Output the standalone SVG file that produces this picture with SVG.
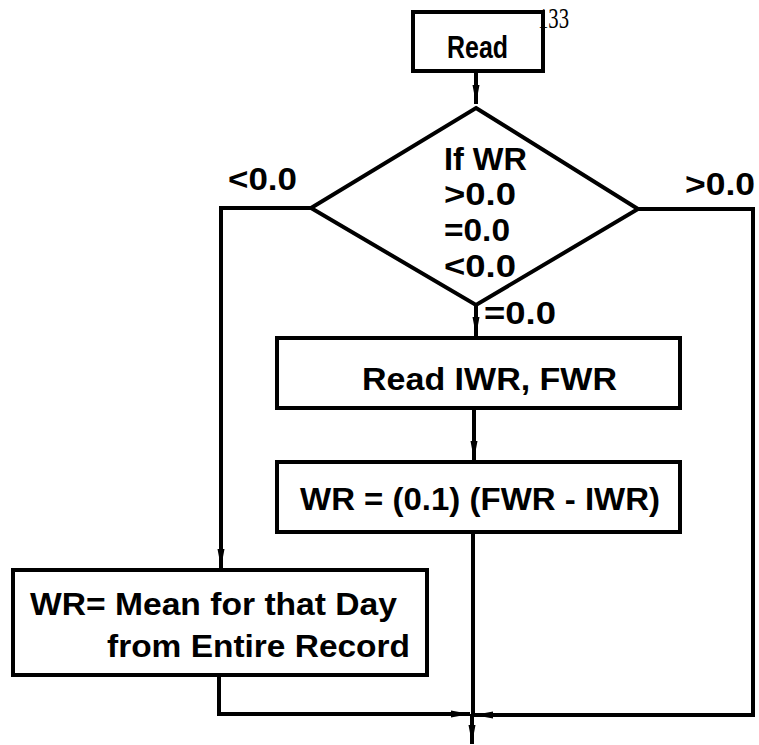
<svg xmlns="http://www.w3.org/2000/svg" width="759" height="745" viewBox="0 0 759 745">
<defs>
<style>
.box{fill:#fff;stroke:#000;stroke-width:4}
.ln{fill:none;stroke:#000;stroke-width:4}
.t{font-family:"Liberation Sans",Arial,sans-serif;font-weight:bold;fill:#000;font-size:32px}
.num{font-family:"Liberation Serif","Times New Roman",serif;fill:#000;font-size:29px}
</style>
<marker id="ah" markerUnits="userSpaceOnUse" markerWidth="22" markerHeight="12" refX="19" refY="6" orient="auto">
<path d="M0,2.5 L19,6 L0,9.5 z" fill="#000"/>
</marker>
</defs>
<rect width="759" height="745" fill="#fff"/>
<g id="connectors">
<path class="ln" d="M476,72 V104" marker-end="url(#ah)"/>
<path class="ln" d="M476,305 V336" marker-end="url(#ah)"/>
<path class="ln" d="M474,408 V460" marker-end="url(#ah)"/>
<path class="ln" d="M473,532 V716"/>
<path class="ln" d="M472,714 V744" marker-end="url(#ah)"/>
<path class="ln" d="M311,208 H221 V568" marker-end="url(#ah)"/>
<path class="ln" d="M219,675 V714 H470" marker-end="url(#ah)"/>
<path class="ln" d="M638,209 H753 V715 H474" marker-end="url(#ah)"/>
<text class="t" x="228" y="190" textLength="69" lengthAdjust="spacingAndGlyphs">&lt;0.0</text>
<text class="t" x="685" y="195" textLength="70" lengthAdjust="spacingAndGlyphs">&gt;0.0</text>
<text class="t" x="484" y="324" textLength="72" lengthAdjust="spacingAndGlyphs">=0.0</text>
</g>
<g id="read">
<rect class="box" x="413" y="12" width="130" height="59"/>
<text class="t" x="447" y="58" font-size="28" textLength="61" lengthAdjust="spacingAndGlyphs">Read</text>
</g>
<g id="pagenum">
<text class="num" x="538" y="28" textLength="31" lengthAdjust="spacingAndGlyphs">133</text>
</g>
<g id="decision">
<polygon class="box" points="476,108 638,209 476,305 311,208"/>
<text class="t" x="444" y="170" textLength="83" lengthAdjust="spacingAndGlyphs">If WR</text>
<text class="t" x="444" y="205" textLength="72" lengthAdjust="spacingAndGlyphs">&gt;0.0</text>
<text class="t" x="444" y="241" textLength="66" lengthAdjust="spacingAndGlyphs">=0.0</text>
<text class="t" x="444" y="277" textLength="72" lengthAdjust="spacingAndGlyphs">&lt;0.0</text>
</g>
<g id="readiwr">
<rect class="box" x="277" y="338" width="403" height="70"/>
<text class="t" x="362" y="390" font-size="34" textLength="255" lengthAdjust="spacingAndGlyphs">Read IWR, FWR</text>
</g>
<g id="compute">
<rect class="box" x="277" y="462" width="403" height="70"/>
<text class="t" x="300" y="510" font-size="34" textLength="360" lengthAdjust="spacingAndGlyphs">WR = (0.1) (FWR - IWR)</text>
</g>
<g id="mean">
<rect class="box" x="13" y="570" width="414" height="105"/>
<text class="t" x="30" y="615" font-size="34" textLength="367" lengthAdjust="spacingAndGlyphs">WR= Mean for  that Day</text>
<text class="t" x="107" y="657" font-size="34" textLength="303" lengthAdjust="spacingAndGlyphs">from Entire Record</text>
</g>
</svg>
